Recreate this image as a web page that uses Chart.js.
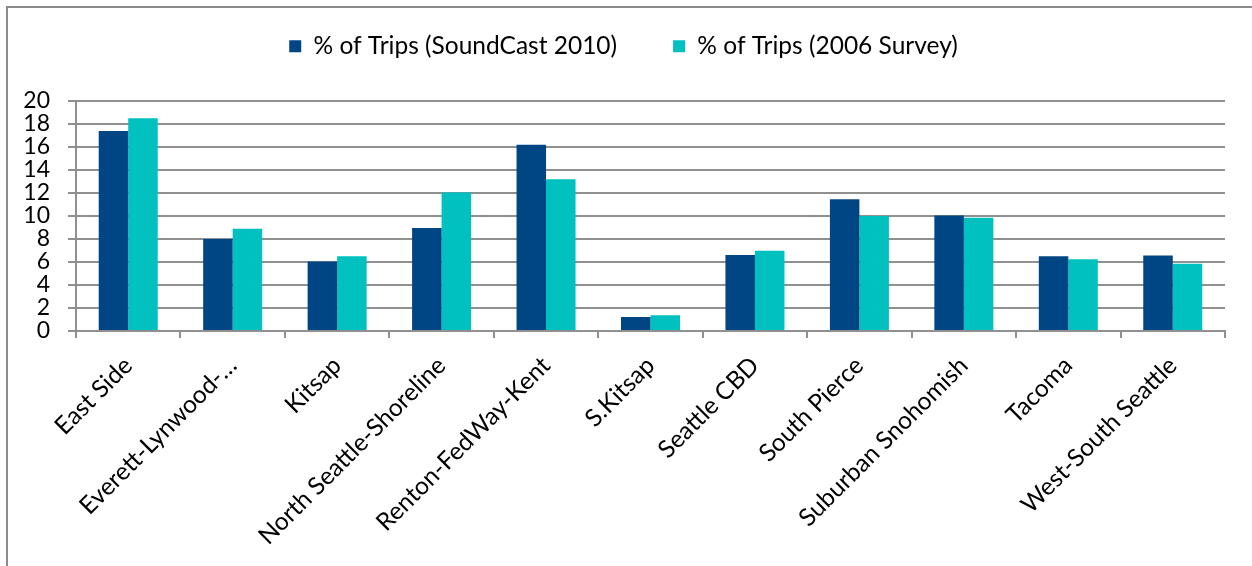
<!DOCTYPE html>
<html>
<head>
<meta charset="utf-8">
<script src="https://cdn.jsdelivr.net/npm/chart.js@4"></script>
<style>
  html, body { margin: 0; padding: 0; background: #fff; overflow: hidden; }
  #frame {
    position: absolute; left: 6px; top: 6px;
    width: 1300px; height: 620px;
    border: 2px solid #8a8a8a; box-sizing: border-box;
  }
  #tripChart { position: absolute; left: 0; top: 0; }
</style>
</head>
<body>
<div id="frame"></div>
<canvas id="tripChart" width="1252" height="566"></canvas>
<script>
'use strict';

const districts = [
  'East Side', 'Everett-Lynwood-…', 'Kitsap', 'North Seattle-Shoreline',
  'Renton-FedWay-Kent', 'S.Kitsap', 'Seattle CBD', 'South Pierce',
  'Suburban Snohomish', 'Tacoma', 'West-South Seattle'
];
const soundCast2010 = [17.4, 8.0, 6.05, 8.95, 16.2, 1.22, 6.6, 11.45, 10.05, 6.5, 6.57];
const survey2006 = [18.5, 8.9, 6.5, 12.05, 13.2, 1.37, 6.97, 10.0, 9.85, 6.25, 5.84];
const seriesNames = ['% of Trips (SoundCast 2010)', '% of Trips (2006 Survey)'];

const fontFamily = 'Lato, "Open Sans", sans-serif';
const gridGray = '#909090';

// keeps the legend row high up while leaving room under it
const legendHeight = {
  id: 'legendHeight',
  afterInit(chart) {
    const fit = chart.legend.fit;
    chart.legend.fit = function () {
      fit.call(this);
      this.height = 123;
    };
  }
};

document.addEventListener('DOMContentLoaded', e => {
  let ctx = document.getElementById('tripChart');
  let tripChart = new Chart(ctx, {
    type: 'bar',
    data: {
      labels: districts,
      datasets: [
        { label: seriesNames[0], data: soundCast2010, backgroundColor: '#004684' },
        { label: seriesNames[1], data: survey2006, backgroundColor: '#00c0c0' }
      ]
    },
    options: {
      responsive: false,
      animation: false,
      devicePixelRatio: 1,
      layout: { padding: { top: -22, left: 22, right: 27, bottom: 0 } },
      datasets: {
        bar: { categoryPercentage: 0.565, barPercentage: 1.0 }
      },
      plugins: {
        legend: {
          position: 'top',
          labels: {
            boxWidth: 12,
            boxHeight: 12,
            padding: 56,
            color: '#000',
            font: { family: fontFamily, size: 24.5 }
          }
        },
        tooltip: { enabled: false }
      },
      scales: {
        x: {
          grid: {
            offset: true,
            drawOnChartArea: false,
            drawTicks: true,
            tickLength: 7,
            color: gridGray,
            lineWidth: 2
          },
          border: { color: gridGray, width: 2 },
          ticks: {
            autoSkip: false,
            minRotation: 45,
            maxRotation: 45,
            padding: 13,
            color: '#000',
            font: { family: fontFamily, size: 24.5 }
          },
          afterFit(scale) { scale.height = 235; }
        },
        y: {
          min: 0,
          max: 20,
          ticks: {
            stepSize: 2,
            autoSkip: false,
            padding: 18,
            color: '#000',
            font: { family: fontFamily, size: 23 }
          },
          grid: {
            color: gridGray,
            lineWidth: 2,
            tickLength: 8
          },
          border: { color: gridGray, width: 2 },
          afterFit(scale) { scale.width = 54; }
        }
      }
    },
    plugins: [legendHeight]
  });
});
</script>
</body>
</html>
